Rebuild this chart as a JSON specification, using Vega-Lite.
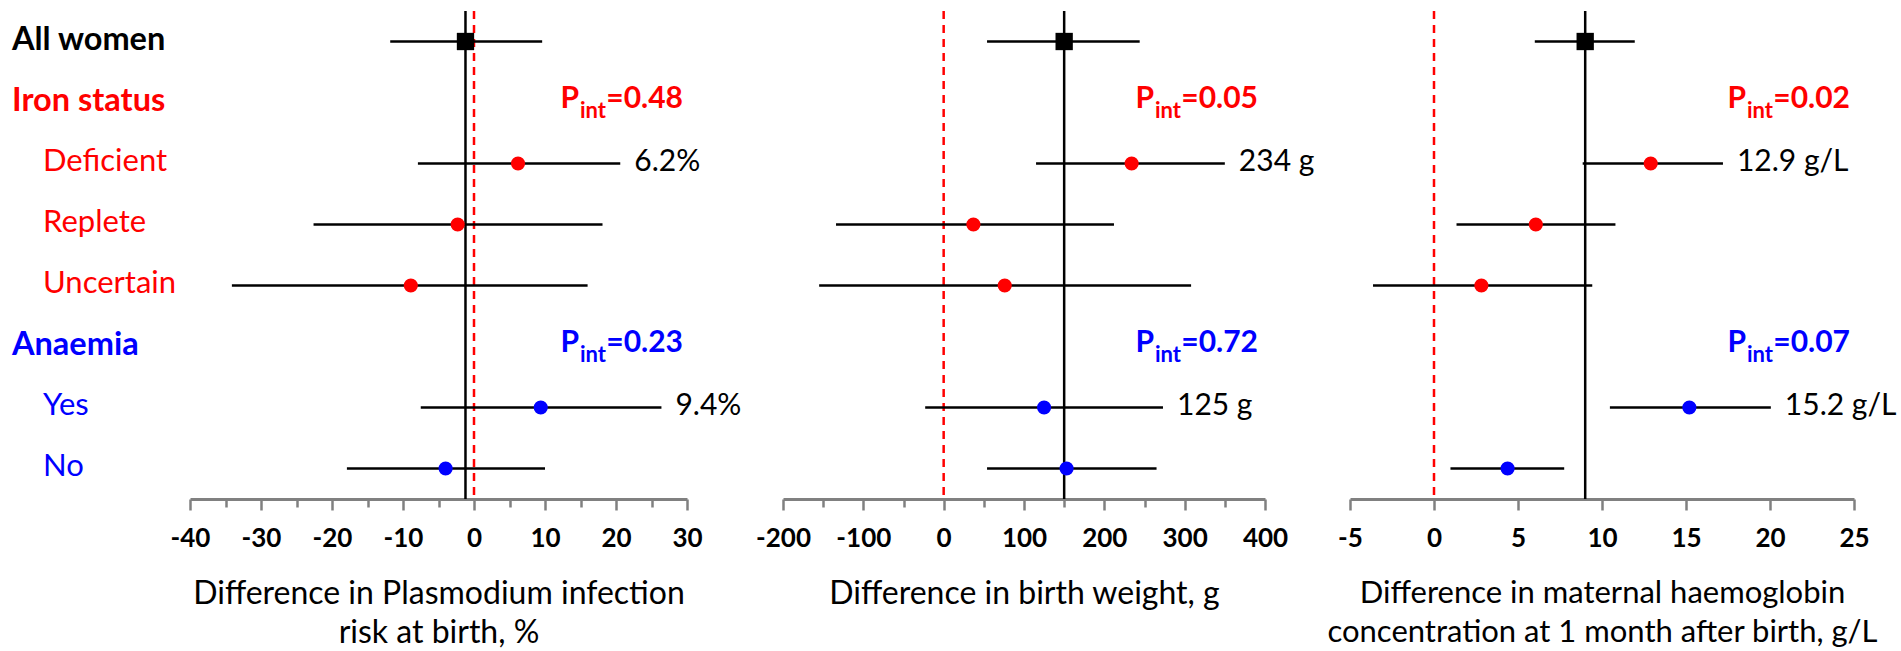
{
  "$schema": "https://vega.github.io/schema/vega-lite/v6.json",
  "padding": {"left": 12, "top": 9, "right": 0, "bottom": 0},
  "bounds": "flush",
  "spacing": 0,
  "config": {
    "view": {"stroke": null},
    "font": "Lato",
    "axis": {"grid": false, "labelFont": "Lato", "titleFont": "Lato"}
  },
  "datasets": {
    "rows": [
      {"row": 1, "label": "All women", "grp": "all", "indent": 0},
      {"row": 2, "label": "Iron status", "grp": "iron", "indent": 0},
      {"row": 3, "label": "Deficient", "grp": "iron", "indent": 1},
      {"row": 4, "label": "Replete", "grp": "iron", "indent": 1},
      {"row": 5, "label": "Uncertain", "grp": "iron", "indent": 1},
      {"row": 6, "label": "Anaemia", "grp": "anaemia", "indent": 0},
      {"row": 7, "label": "Yes", "grp": "anaemia", "indent": 1},
      {"row": 8, "label": "No", "grp": "anaemia", "indent": 1}
    ],
    "est": [
      {"outcome": "pf", "row": 1, "grp": "all", "est": -1.2, "lo": -11.8, "hi": 9.6},
      {"outcome": "pf", "row": 3, "grp": "iron", "est": 6.2, "lo": -7.9, "hi": 20.6, "lab": "6.2%"},
      {"outcome": "pf", "row": 4, "grp": "iron", "est": -2.3, "lo": -22.6, "hi": 18.1},
      {"outcome": "pf", "row": 5, "grp": "iron", "est": -8.9, "lo": -34.1, "hi": 16.0},
      {"outcome": "pf", "row": 7, "grp": "anaemia", "est": 9.4, "lo": -7.5, "hi": 26.4, "lab": "9.4%"},
      {"outcome": "pf", "row": 8, "grp": "anaemia", "est": -4.0, "lo": -17.9, "hi": 10.0},
      {"outcome": "bw", "row": 1, "grp": "all", "est": 150, "lo": 54, "hi": 244},
      {"outcome": "bw", "row": 3, "grp": "iron", "est": 234, "lo": 115, "hi": 350, "lab": "234 g"},
      {"outcome": "bw", "row": 4, "grp": "iron", "est": 37, "lo": -134, "hi": 212},
      {"outcome": "bw", "row": 5, "grp": "iron", "est": 76, "lo": -155, "hi": 308},
      {"outcome": "bw", "row": 7, "grp": "anaemia", "est": 125, "lo": -23, "hi": 273, "lab": "125 g"},
      {"outcome": "bw", "row": 8, "grp": "anaemia", "est": 153, "lo": 54, "hi": 265},
      {"outcome": "hb", "row": 1, "grp": "all", "est": 9.0, "lo": 6.0, "hi": 11.95},
      {"outcome": "hb", "row": 3, "grp": "iron", "est": 12.9, "lo": 8.85, "hi": 17.2, "lab": "12.9 g/L"},
      {"outcome": "hb", "row": 4, "grp": "iron", "est": 6.06, "lo": 1.34, "hi": 10.8},
      {"outcome": "hb", "row": 5, "grp": "iron", "est": 2.82, "lo": -3.63, "hi": 9.42},
      {"outcome": "hb", "row": 7, "grp": "anaemia", "est": 15.2, "lo": 10.47, "hi": 20.05, "lab": "15.2 g/L"},
      {"outcome": "hb", "row": 8, "grp": "anaemia", "est": 4.38, "lo": 0.98, "hi": 7.75}
    ],
    "pint": [
      {"outcome": "pf", "row": 2, "grp": "iron", "p": "0.48"},
      {"outcome": "pf", "row": 6, "grp": "anaemia", "p": "0.23"},
      {"outcome": "bw", "row": 2, "grp": "iron", "p": "0.05"},
      {"outcome": "bw", "row": 6, "grp": "anaemia", "p": "0.72"},
      {"outcome": "hb", "row": 2, "grp": "iron", "p": "0.02"},
      {"outcome": "hb", "row": 6, "grp": "anaemia", "p": "0.07"}
    ]
  },
  "hconcat": [
    {
      "width": 178,
      "height": 488,
      "data": {"name": "rows"},
      "encoding": {
        "x": {"field": "indent", "type": "quantitative", "scale": {"domain": [0, 1], "range": [0, 31], "nice": false, "zero": false}, "axis": null},
        "y": {"field": "row", "type": "quantitative", "scale": {"domain": [0.5, 8.5], "reverse": true, "nice": false, "zero": false}, "axis": null},
        "text": {"field": "label"},
        "color": {"field": "grp", "type": "nominal", "scale": {"domain": ["all", "iron", "anaemia"], "range": ["#000000", "#ff0000", "#0000ff"]}, "legend": null}
      },
      "layer": [
        {"transform": [{"filter": "datum.indent == 0"}], "mark": {"type": "text", "align": "left", "baseline": "middle", "dy": -2, "fontSize": 32.5, "fontWeight": "bold"}},
        {"transform": [{"filter": "datum.indent == 1"}], "mark": {"type": "text", "align": "left", "baseline": "middle", "dy": -2, "fontSize": 31}}
      ]
    },
    {
      "width": 497,
      "height": 488,
      "resolve": {"axis": {"x": "independent"}},
      "layer": [
        {
          "data": {"values": [{}]},
          "mark": {"type": "rule", "color": "#ff0000", "strokeDash": [8, 6], "strokeWidth": 2.5},
          "encoding": {
            "x": {"datum": 0, "type": "quantitative", "scale": {"domain": [-40, 30], "nice": false, "zero": false},
              "axis": {"orient": "bottom", "values": [-35, -25, -15, -5, 5, 15, 25], "domain": false, "labels": false, "title": null, "tickColor": "#808080", "tickWidth": 2.5, "tickSize": 8, "grid": false}}
          }
        },
        {
          "data": {"name": "est"},
          "transform": [{"filter": "datum.outcome == 'pf' && datum.row == 1"}],
          "mark": {"type": "rule", "color": "#000000", "strokeWidth": 2.5},
          "encoding": {
            "x": {"field": "est", "type": "quantitative",
              "axis": {"orient": "bottom", "values": [-40, -30, -20, -10, 0, 10, 20, 30], "labelExpr": "'' + datum.value", "domainColor": "#808080", "domainWidth": 3, "tickColor": "#808080", "tickWidth": 2.5, "tickSize": 11, "labelFontSize": 26, "labelFontWeight": "bold", "labelColor": "#000000", "labelPadding": 15, "labelFlush": false, "labelOverlap": false, "title": ["Difference in Plasmodium infection", "risk at birth, %"], "titleFontSize": 32, "titleFontWeight": "normal", "titleColor": "#000000", "titleLineHeight": 39, "titlePadding": 27, "grid": false}}
          }
        },
        {
          "data": {"name": "est"},
          "transform": [{"filter": "datum.outcome == 'pf'"}],
          "mark": {"type": "rule", "color": "#000000", "strokeWidth": 2.5},
          "encoding": {
            "x": {"field": "lo", "type": "quantitative", "axis": null},
            "x2": {"field": "hi"},
            "y": {"field": "row", "type": "quantitative", "scale": {"domain": [0.5, 8.5], "reverse": true, "nice": false, "zero": false}, "axis": null}
          }
        },
        {
          "data": {"name": "est"},
          "transform": [{"filter": "datum.outcome == 'pf' && datum.row != 1"}],
          "mark": {"type": "point", "shape": "circle", "filled": true, "size": 200, "opacity": 1},
          "encoding": {
            "x": {"field": "est", "type": "quantitative", "axis": null},
            "y": {"field": "row", "type": "quantitative", "axis": null},
            "color": {"field": "grp", "type": "nominal", "scale": {"domain": ["all", "iron", "anaemia"], "range": ["#000000", "#ff0000", "#0000ff"]}, "legend": null}
          }
        },
        {
          "data": {"name": "est"},
          "transform": [{"filter": "datum.outcome == 'pf' && datum.row == 1"}],
          "mark": {"type": "square", "size": 300, "color": "#000000", "opacity": 1},
          "encoding": {
            "x": {"field": "est", "type": "quantitative", "axis": null},
            "y": {"field": "row", "type": "quantitative", "axis": null}
          }
        },
        {
          "data": {"name": "est"},
          "transform": [{"filter": "datum.outcome == 'pf' && isValid(datum.lab)"}],
          "mark": {"type": "text", "align": "left", "baseline": "middle", "dx": 14, "dy": -2, "fontSize": 30, "color": "#000000"},
          "encoding": {
            "x": {"field": "hi", "type": "quantitative", "axis": null},
            "y": {"field": "row", "type": "quantitative", "axis": null},
            "text": {"field": "lab"}
          }
        },
        {
          "data": {"name": "pint"},
          "transform": [{"filter": "datum.outcome == 'pf'"}, {"calculate": "'=' + datum.p", "as": "ptext"}],
          "mark": {"type": "text", "align": "right", "baseline": "middle", "dx": -4, "dy": -3.5, "fontSize": 30, "fontWeight": "bold"},
          "encoding": {
            "x": {"value": "width"},
            "y": {"field": "row", "type": "quantitative", "axis": null},
            "text": {"field": "ptext"},
            "color": {"field": "grp", "type": "nominal", "legend": null}
          }
        },
        {
          "data": {"name": "pint"},
          "transform": [{"filter": "datum.outcome == 'pf'"}],
          "mark": {"type": "text", "align": "right", "baseline": "middle", "dx": -81, "dy": 8, "fontSize": 22, "fontWeight": "bold"},
          "encoding": {
            "x": {"value": "width"},
            "y": {"field": "row", "type": "quantitative", "axis": null},
            "text": {"value": "int"},
            "color": {"field": "grp", "type": "nominal", "legend": null}
          }
        },
        {
          "data": {"name": "pint"},
          "transform": [{"filter": "datum.outcome == 'pf'"}],
          "mark": {"type": "text", "align": "right", "baseline": "middle", "dx": -108, "dy": -3.5, "fontSize": 30, "fontWeight": "bold"},
          "encoding": {
            "x": {"value": "width"},
            "y": {"field": "row", "type": "quantitative", "axis": null},
            "text": {"value": "P"},
            "color": {"field": "grp", "type": "nominal", "legend": null}
          }
        }
      ]
    },
    {"width": 96, "height": 488, "data": {"values": []}, "mark": "point"},
    {
      "width": 482,
      "height": 488,
      "resolve": {"axis": {"x": "independent"}},
      "layer": [
        {
          "data": {"values": [{}]},
          "mark": {"type": "rule", "color": "#ff0000", "strokeDash": [8, 6], "strokeWidth": 2.5},
          "encoding": {
            "x": {"datum": 0, "type": "quantitative", "scale": {"domain": [-200, 400], "nice": false, "zero": false},
              "axis": {"orient": "bottom", "values": [-150, -50, 50, 150, 250, 350], "domain": false, "labels": false, "title": null, "tickColor": "#808080", "tickWidth": 2.5, "tickSize": 8, "grid": false}}
          }
        },
        {
          "data": {"name": "est"},
          "transform": [{"filter": "datum.outcome == 'bw' && datum.row == 1"}],
          "mark": {"type": "rule", "color": "#000000", "strokeWidth": 2.5},
          "encoding": {
            "x": {"field": "est", "type": "quantitative",
              "axis": {"orient": "bottom", "values": [-200, -100, 0, 100, 200, 300, 400], "labelExpr": "'' + datum.value", "domainColor": "#808080", "domainWidth": 3, "tickColor": "#808080", "tickWidth": 2.5, "tickSize": 11, "labelFontSize": 26, "labelFontWeight": "bold", "labelColor": "#000000", "labelPadding": 15, "labelFlush": false, "labelOverlap": false, "title": "Difference in birth weight, g", "titleFontSize": 32, "titleFontWeight": "normal", "titleColor": "#000000", "titleLineHeight": 39, "titlePadding": 27, "grid": false}}
          }
        },
        {
          "data": {"name": "est"},
          "transform": [{"filter": "datum.outcome == 'bw'"}],
          "mark": {"type": "rule", "color": "#000000", "strokeWidth": 2.5},
          "encoding": {
            "x": {"field": "lo", "type": "quantitative", "axis": null},
            "x2": {"field": "hi"},
            "y": {"field": "row", "type": "quantitative", "scale": {"domain": [0.5, 8.5], "reverse": true, "nice": false, "zero": false}, "axis": null}
          }
        },
        {
          "data": {"name": "est"},
          "transform": [{"filter": "datum.outcome == 'bw' && datum.row != 1"}],
          "mark": {"type": "point", "shape": "circle", "filled": true, "size": 200, "opacity": 1},
          "encoding": {
            "x": {"field": "est", "type": "quantitative", "axis": null},
            "y": {"field": "row", "type": "quantitative", "axis": null},
            "color": {"field": "grp", "type": "nominal", "scale": {"domain": ["all", "iron", "anaemia"], "range": ["#000000", "#ff0000", "#0000ff"]}, "legend": null}
          }
        },
        {
          "data": {"name": "est"},
          "transform": [{"filter": "datum.outcome == 'bw' && datum.row == 1"}],
          "mark": {"type": "square", "size": 300, "color": "#000000", "opacity": 1},
          "encoding": {
            "x": {"field": "est", "type": "quantitative", "axis": null},
            "y": {"field": "row", "type": "quantitative", "axis": null}
          }
        },
        {
          "data": {"name": "est"},
          "transform": [{"filter": "datum.outcome == 'bw' && isValid(datum.lab)"}],
          "mark": {"type": "text", "align": "left", "baseline": "middle", "dx": 14, "dy": -2, "fontSize": 30, "color": "#000000"},
          "encoding": {
            "x": {"field": "hi", "type": "quantitative", "axis": null},
            "y": {"field": "row", "type": "quantitative", "axis": null},
            "text": {"field": "lab"}
          }
        },
        {
          "data": {"name": "pint"},
          "transform": [{"filter": "datum.outcome == 'bw'"}, {"calculate": "'=' + datum.p", "as": "ptext"}],
          "mark": {"type": "text", "align": "right", "baseline": "middle", "dx": -7, "dy": -3.5, "fontSize": 30, "fontWeight": "bold"},
          "encoding": {
            "x": {"value": "width"},
            "y": {"field": "row", "type": "quantitative", "axis": null},
            "text": {"field": "ptext"},
            "color": {"field": "grp", "type": "nominal", "legend": null}
          }
        },
        {
          "data": {"name": "pint"},
          "transform": [{"filter": "datum.outcome == 'bw'"}],
          "mark": {"type": "text", "align": "right", "baseline": "middle", "dx": -84, "dy": 8, "fontSize": 22, "fontWeight": "bold"},
          "encoding": {
            "x": {"value": "width"},
            "y": {"field": "row", "type": "quantitative", "axis": null},
            "text": {"value": "int"},
            "color": {"field": "grp", "type": "nominal", "legend": null}
          }
        },
        {
          "data": {"name": "pint"},
          "transform": [{"filter": "datum.outcome == 'bw'"}],
          "mark": {"type": "text", "align": "right", "baseline": "middle", "dx": -111, "dy": -3.5, "fontSize": 30, "fontWeight": "bold"},
          "encoding": {
            "x": {"value": "width"},
            "y": {"field": "row", "type": "quantitative", "axis": null},
            "text": {"value": "P"},
            "color": {"field": "grp", "type": "nominal", "legend": null}
          }
        }
      ]
    },
    {"width": 85, "height": 488, "data": {"values": []}, "mark": "point"},
    {
      "width": 504,
      "height": 488,
      "resolve": {"axis": {"x": "independent"}},
      "layer": [
        {
          "data": {"values": [{}]},
          "mark": {"type": "rule", "color": "#ff0000", "strokeDash": [8, 6], "strokeWidth": 2.5},
          "encoding": {
            "x": {"datum": 0, "type": "quantitative", "scale": {"domain": [-5, 25], "nice": false, "zero": false}, "axis": null}
          }
        },
        {
          "data": {"name": "est"},
          "transform": [{"filter": "datum.outcome == 'hb' && datum.row == 1"}],
          "mark": {"type": "rule", "color": "#000000", "strokeWidth": 2.5},
          "encoding": {
            "x": {"field": "est", "type": "quantitative",
              "axis": {"orient": "bottom", "values": [-5, 0, 5, 10, 15, 20, 25], "labelExpr": "'' + datum.value", "domainColor": "#808080", "domainWidth": 3, "tickColor": "#808080", "tickWidth": 2.5, "tickSize": 11, "labelFontSize": 26, "labelFontWeight": "bold", "labelColor": "#000000", "labelPadding": 15, "labelFlush": false, "labelOverlap": false, "title": ["Difference in maternal haemoglobin", "concentration at 1 month after birth, g/L"], "titleFontSize": 31, "titleFontWeight": "normal", "titleColor": "#000000", "titleLineHeight": 39, "titlePadding": 27, "grid": false}}
          }
        },
        {
          "data": {"name": "est"},
          "transform": [{"filter": "datum.outcome == 'hb'"}],
          "mark": {"type": "rule", "color": "#000000", "strokeWidth": 2.5},
          "encoding": {
            "x": {"field": "lo", "type": "quantitative", "axis": null},
            "x2": {"field": "hi"},
            "y": {"field": "row", "type": "quantitative", "scale": {"domain": [0.5, 8.5], "reverse": true, "nice": false, "zero": false}, "axis": null}
          }
        },
        {
          "data": {"name": "est"},
          "transform": [{"filter": "datum.outcome == 'hb' && datum.row != 1"}],
          "mark": {"type": "point", "shape": "circle", "filled": true, "size": 200, "opacity": 1},
          "encoding": {
            "x": {"field": "est", "type": "quantitative", "axis": null},
            "y": {"field": "row", "type": "quantitative", "axis": null},
            "color": {"field": "grp", "type": "nominal", "scale": {"domain": ["all", "iron", "anaemia"], "range": ["#000000", "#ff0000", "#0000ff"]}, "legend": null}
          }
        },
        {
          "data": {"name": "est"},
          "transform": [{"filter": "datum.outcome == 'hb' && datum.row == 1"}],
          "mark": {"type": "square", "size": 300, "color": "#000000", "opacity": 1},
          "encoding": {
            "x": {"field": "est", "type": "quantitative", "axis": null},
            "y": {"field": "row", "type": "quantitative", "axis": null}
          }
        },
        {
          "data": {"name": "est"},
          "transform": [{"filter": "datum.outcome == 'hb' && isValid(datum.lab)"}],
          "mark": {"type": "text", "align": "left", "baseline": "middle", "dx": 14, "dy": -2, "fontSize": 30, "color": "#000000"},
          "encoding": {
            "x": {"field": "hi", "type": "quantitative", "axis": null},
            "y": {"field": "row", "type": "quantitative", "axis": null},
            "text": {"field": "lab"}
          }
        },
        {
          "data": {"name": "pint"},
          "transform": [{"filter": "datum.outcome == 'hb'"}, {"calculate": "'=' + datum.p", "as": "ptext"}],
          "mark": {"type": "text", "align": "right", "baseline": "middle", "dx": -4, "dy": -3.5, "fontSize": 30, "fontWeight": "bold"},
          "encoding": {
            "x": {"value": "width"},
            "y": {"field": "row", "type": "quantitative", "axis": null},
            "text": {"field": "ptext"},
            "color": {"field": "grp", "type": "nominal", "legend": null}
          }
        },
        {
          "data": {"name": "pint"},
          "transform": [{"filter": "datum.outcome == 'hb'"}],
          "mark": {"type": "text", "align": "right", "baseline": "middle", "dx": -81, "dy": 8, "fontSize": 22, "fontWeight": "bold"},
          "encoding": {
            "x": {"value": "width"},
            "y": {"field": "row", "type": "quantitative", "axis": null},
            "text": {"value": "int"},
            "color": {"field": "grp", "type": "nominal", "legend": null}
          }
        },
        {
          "data": {"name": "pint"},
          "transform": [{"filter": "datum.outcome == 'hb'"}],
          "mark": {"type": "text", "align": "right", "baseline": "middle", "dx": -108, "dy": -3.5, "fontSize": 30, "fontWeight": "bold"},
          "encoding": {
            "x": {"value": "width"},
            "y": {"field": "row", "type": "quantitative", "axis": null},
            "text": {"value": "P"},
            "color": {"field": "grp", "type": "nominal", "legend": null}
          }
        }
      ]
    }
  ]
}
